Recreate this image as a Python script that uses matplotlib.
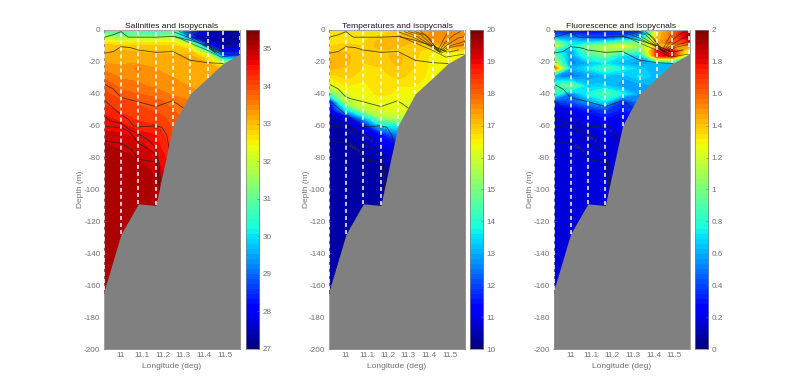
import numpy as np
import matplotlib
matplotlib.use("Agg")
import matplotlib.pyplot as plt

plt.rcParams['font.family'] = ['Liberation Sans', 'DejaVu Sans']
plt.rcParams['axes.unicode_minus'] = False

titles = ["Salinities and isopycnals", "Temperatures and isopycnals", "Fluorescence and isopycnals"]
station_lon = [10.92, 11.0, 11.083, 11.167, 11.25, 11.333, 11.417, 11.49, 11.572]
station_bottom = [163, 128, 109, 110, 60, 40, 30, 21, 15]
depth = [1, 3, 5, 8, 10, 13, 16, 21, 24, 29, 35, 40, 45, 50, 55, 60, 65, 70, 75, 80, 90, 100, 110, 165]

salinity = [
    [30.8, 30.8, 30.8, 30.6, 30.8, 28.8, 27.5, 27.4, 27.4],
    [31.2, 31.0, 31.0, 30.9, 31.2, 28.6, 27.3, 27.3, 27.3],
    [31.9, 31.8, 31.9, 31.9, 32.0, 28.5, 27.3, 27.3, 27.3],
    [32.7, 32.6, 32.6, 32.6, 32.6, 31.5, 27.8, 27.4, 27.4],
    [32.9, 32.9, 32.9, 32.9, 32.9, 32.4, 28.5, 27.5, 27.5],
    [33.0, 33.1, 33.0, 33.0, 33.0, 32.9, 30.5, 28.0, 28.0],
    [33.1, 33.2, 33.2, 33.1, 33.1, 33.1, 32.5, 28.5, 28.5],
    [33.3, 33.3, 33.3, 33.2, 33.2, 33.2, 33.1, 32.0, 31.0],
    [33.5, 33.4, 33.6, 33.3, 33.2, 33.2, 33.2, 33.0, 33.0],
    [33.7, 33.5, 33.5, 33.4, 33.3, 33.2, 33.2, 33.0, 33.0],
    [34.0, 33.7, 33.6, 33.5, 33.4, 33.3, 33.3, 33.0, 33.0],
    [34.1, 33.9, 33.8, 33.7, 33.5, 33.4, 33.3, 33.0, 33.0],
    [34.2, 34.1, 34.0, 33.9, 33.7, 33.6, 33.3, 33.0, 33.0],
    [34.4, 34.2, 34.1, 34.0, 33.8, 33.7, 33.3, 33.0, 33.0],
    [34.6, 34.4, 34.2, 34.2, 33.9, 33.7, 33.3, 33.0, 33.0],
    [34.7, 34.6, 34.4, 34.3, 34.0, 33.7, 33.3, 33.0, 33.0],
    [34.8, 34.8, 34.6, 34.5, 34.0, 33.7, 33.3, 33.0, 33.0],
    [35.0, 34.9, 34.8, 34.6, 34.1, 33.7, 33.3, 33.0, 33.0],
    [35.1, 35.0, 34.9, 34.7, 34.2, 33.7, 33.3, 33.0, 33.0],
    [35.1, 35.1, 35.0, 34.8, 34.3, 33.7, 33.3, 33.0, 33.0],
    [35.1, 35.1, 35.1, 35.0, 34.5, 33.7, 33.3, 33.0, 33.0],
    [35.1, 35.1, 35.1, 35.1, 34.7, 33.7, 33.3, 33.0, 33.0],
    [35.1, 35.1, 35.1, 35.1, 34.8, 33.7, 33.3, 33.0, 33.0],
    [35.1, 35.1, 35.1, 35.1, 34.8, 33.7, 33.3, 33.0, 33.0],
]
temperature = [
    [16.6, 16.6, 16.6, 16.7, 16.9, 17.1, 17.6, 17.6, 17.6],
    [16.6, 16.6, 16.6, 16.8, 17.0, 17.2, 17.6, 17.7, 17.7],
    [16.7, 16.7, 16.7, 17.0, 17.1, 17.2, 17.6, 17.7, 17.7],
    [16.7, 16.8, 16.8, 17.2, 17.2, 17.0, 17.4, 17.6, 17.6],
    [16.8, 16.9, 16.8, 17.2, 17.1, 16.9, 16.9, 17.3, 17.4],
    [17.0, 17.0, 16.8, 17.0, 17.0, 16.9, 16.6, 16.6, 16.8],
    [17.1, 17.1, 16.9, 17.0, 17.1, 16.9, 16.5, 16.4, 16.4],
    [17.1, 17.1, 16.8, 16.9, 17.1, 16.8, 16.5, 16.4, 16.4],
    [17.1, 17.0, 16.8, 16.8, 17.0, 16.8, 16.5, 16.4, 16.4],
    [16.7, 16.9, 16.7, 16.7, 16.9, 16.7, 16.5, 16.4, 16.4],
    [16.1, 16.6, 16.5, 16.8, 16.6, 16.6, 16.4, 16.4, 16.4],
    [14.5, 16.1, 16.4, 16.7, 16.5, 16.4, 16.4, 16.4, 16.4],
    [11.2, 15.6, 16.2, 16.4, 16.3, 16.2, 16.2, 16.2, 16.2],
    [10.8, 13.5, 15.6, 16.1, 16.2, 16.1, 16.1, 16.1, 16.1],
    [10.5, 10.8, 13.0, 15.4, 15.7, 15.7, 15.7, 15.7, 15.7],
    [10.4, 10.5, 11.0, 13.5, 13.7, 14.5, 14.5, 14.5, 14.5],
    [10.4, 10.4, 10.6, 11.5, 12.6, 13.0, 13.0, 13.0, 13.0],
    [10.3, 10.4, 10.5, 11.0, 11.6, 12.0, 12.0, 12.0, 12.0],
    [10.3, 10.3, 10.4, 10.7, 11.0, 11.5, 11.5, 11.5, 11.5],
    [10.3, 10.3, 10.3, 10.5, 10.8, 11.0, 11.0, 11.0, 11.0],
    [10.3, 10.3, 10.3, 10.3, 10.5, 10.5, 10.5, 10.5, 10.5],
    [10.3, 10.3, 10.3, 10.3, 10.3, 10.3, 10.3, 10.3, 10.3],
    [10.3, 10.3, 10.3, 10.3, 10.3, 10.3, 10.3, 10.3, 10.3],
    [10.3, 10.3, 10.3, 10.3, 10.3, 10.3, 10.3, 10.3, 10.3],
]
fluorescence = [
    [0.35, 0.30, 0.25, 0.30, 0.30, 0.35, 1.35, 1.60, 1.90],
    [0.40, 0.40, 0.35, 0.35, 0.35, 0.50, 1.40, 1.60, 1.95],
    [0.60, 0.55, 0.45, 0.40, 0.50, 0.60, 1.40, 1.60, 1.90],
    [1.10, 0.70, 0.70, 0.80, 0.95, 1.00, 1.45, 1.65, 1.70],
    [1.20, 0.70, 1.00, 1.10, 1.25, 1.05, 1.40, 1.40, 1.50],
    [0.80, 0.55, 0.95, 1.15, 1.00, 0.90, 1.75, 1.80, 1.20],
    [0.95, 0.55, 0.85, 0.95, 0.70, 0.65, 1.80, 1.85, 1.00],
    [1.20, 0.50, 0.60, 0.70, 0.60, 0.55, 0.60, 0.60, 0.60],
    [1.65, 0.60, 0.70, 0.90, 0.75, 0.65, 0.60, 0.60, 0.60],
    [0.55, 0.45, 0.55, 0.60, 0.60, 0.70, 0.60, 0.60, 0.60],
    [0.85, 1.00, 0.65, 0.65, 0.55, 0.55, 0.60, 0.60, 0.60],
    [0.85, 0.50, 0.75, 0.90, 0.75, 0.55, 0.60, 0.60, 0.60],
    [0.35, 0.40, 0.55, 0.70, 0.30, 0.50, 0.50, 0.50, 0.50],
    [0.18, 0.22, 0.30, 0.38, 0.30, 0.40, 0.40, 0.40, 0.40],
    [0.14, 0.18, 0.22, 0.28, 0.20, 0.30, 0.30, 0.30, 0.30],
    [0.14, 0.16, 0.18, 0.20, 0.20, 0.20, 0.20, 0.20, 0.20],
    [0.14, 0.14, 0.15, 0.18, 0.18, 0.18, 0.18, 0.18, 0.18],
    [0.14, 0.14, 0.14, 0.15, 0.15, 0.15, 0.15, 0.15, 0.15],
    [0.14, 0.14, 0.14, 0.15, 0.15, 0.15, 0.15, 0.15, 0.15],
    [0.14, 0.14, 0.14, 0.15, 0.15, 0.15, 0.15, 0.15, 0.15],
    [0.14, 0.14, 0.14, 0.15, 0.15, 0.15, 0.15, 0.15, 0.15],
    [0.14, 0.14, 0.14, 0.15, 0.15, 0.15, 0.15, 0.15, 0.15],
    [0.14, 0.14, 0.14, 0.15, 0.15, 0.15, 0.15, 0.15, 0.15],
    [0.14, 0.14, 0.14, 0.15, 0.15, 0.15, 0.15, 0.15, 0.15],
]
ranges = [(27, 35.5), (10, 20), (0, 2)]
bar_ticks = [list(range(27, 36)), list(range(10, 21)), [round(0.2 * i, 1) for i in range(11)]]

# isopycnals: longitude and depth in metres
iso_lon = [
    [10.92, 10.963, 11.0, 11.019, 11.035, 11.167, 11.25, 11.333, 11.418, 11.49, 11.54],
    [10.92, 10.963, 11.0, 11.043, 11.083, 11.167, 11.25, 11.333, 11.418, 11.49],
    [10.92, 10.963, 10.995, 11.019, 11.083, 11.167, 11.212, 11.244, 11.268, 11.3],
    [10.92, 10.963, 11.0, 11.035, 11.059, 11.083, 11.124, 11.167, 11.196, 11.22, 11.231],
    [10.92, 10.947, 11.0, 11.035, 11.083, 11.132, 11.167, 11.18, 11.191],
    [10.92, 11.0, 11.043, 11.083, 11.124, 11.167, 11.18, 11.188],
    [10.92, 11.0, 11.051, 11.083, 11.124, 11.167, 11.18, 11.191],
]
iso_depth = [
    [4.5, 3, 1, 3, 4.5, 4.5, 4, 6.5, 10, 14, 12.5],
    [14.5, 13.5, 10.5, 11, 12.5, 14, 13.5, 19, 20.5, 21],
    [34, 37, 41.5, 43, 45, 48, 46, 44.5, 46, 49],
    [44, 49, 53, 56, 60, 60.5, 60.5, 60, 61, 66, 74],
    [54, 57, 58.5, 62, 65, 69, 74, 82, 95],
    [60.5, 61, 64, 71, 74, 78, 90, 100],
    [69.5, 71, 75, 81, 82, 82.5, 95, 105],
]
# fan of isopycnals near the shelf front
fan_lon = [
    [11.25, 11.33, 11.417, 11.46, 11.50, 11.572],
    [11.28, 11.34, 11.40, 11.45, 11.50, 11.572],
    [11.30, 11.36, 11.41, 11.45, 11.49, 11.54, 11.572],
    [11.33, 11.38, 11.42, 11.45, 11.475, 11.52, 11.55],
    [11.36, 11.40, 11.44, 11.465, 11.49],
    [11.26, 11.33, 11.42, 11.48, 11.572],
]
fan_depth = [
    [1, 5, 11, 14.5, 11, 9],
    [1, 4, 9, 14, 10, 7],
    [1, 3, 9, 13.5, 9, 5, 4],
    [1, 3, 9, 13, 8, 3, 1],
    [1, 5, 13, 7, 1],
    [4, 8, 13, 17, 15],
]
label_lon = [11.17, 11.10, 11.04]
label_depth = [62, 68, 74]
label_text = ["1026.5", "1026.5", "1026.5"]

fig = plt.figure(figsize=(8, 3.92), dpi=100)
W, H = 800.0, 392.0
ax_px = [(104, 240), (329, 465), (553.5, 689.5)]
bar_px = [(245.7, 259), (470, 483.3), (694.5, 707.8)]
top, bottom = 30, 349
gray = "#707070"
x = np.array(station_lon)
y = np.array(depth, dtype=float)


def box(p):
    return [p[0] / W, 1 - bottom / H, (p[1] - p[0]) / W, (bottom - top) / H]


fields = [salinity, temperature, fluorescence]
for i in range(3):
    ax = fig.add_axes(box(ax_px[i]))
    lo, hi = ranges[i]
    levels = np.linspace(lo, hi, 36 if i == 0 else 45)
    cf = ax.contourf(x, -y, np.array(fields[i]), levels=levels, cmap="jet", extend="both", zorder=1)
    for lo_i, d_i in zip(iso_lon, iso_depth):
        ax.plot(lo_i, -np.array(d_i), color="#202020", lw=0.6, alpha=0.8, zorder=2)
    for lo_f, d_f in zip(fan_lon, fan_depth):
        ax.plot(lo_f, -np.array(d_f), color="#202020", lw=0.5, alpha=0.75, zorder=2)
    for lx, ld, lt in zip(label_lon, label_depth, label_text):
        ax.text(lx, -ld, lt, fontsize=3.2, color="#444444", rotation=-30,
                ha="center", va="center", zorder=2)
    ax.fill_between(x, -np.array(station_bottom, dtype=float), -200, color="#808080", lw=0, zorder=3)
    ax.vlines(x, -np.array(station_bottom, dtype=float), 0, colors="white", lw=1.1,
              linestyles=(0, (2.6, 2.0)), zorder=4)
    ax.set_xlim(10.918, 11.572)
    ax.set_ylim(-200, 0)
    ax.set_xticks([11, 11.1, 11.2, 11.3, 11.4, 11.5])
    ax.set_xticklabels(["11", "11.1", "11.2", "11.3", "11.4", "11.5"])
    ax.set_yticks(range(-200, 1, 20))
    ax.tick_params(direction="in", length=1.5, width=0.4, labelsize=5.9, colors=gray, pad=2.5)
    ax.set_xlabel("Longitude (deg)", fontsize=6, color=gray, labelpad=2.5)
    ax.set_ylabel("Depth (m)", fontsize=6, color=gray)
    ax.yaxis.set_label_coords(-19.5 / 136.0, 0.5)
    ax.set_title(titles[i], fontsize=6.1, color="#1a1a1a", pad=1.5)
    for s in ax.spines.values():
        s.set_color("#808080")
        s.set_linewidth(0.5)

    cax = fig.add_axes(box(bar_px[i]))
    g = np.linspace(lo, hi, 64)[:, None]
    cax.imshow(g, origin="lower", aspect="auto", cmap="jet", extent=[0, 1, lo, hi], vmin=lo, vmax=hi)
    cax.set_xticks([])
    cax.yaxis.tick_right()
    cax.set_yticks(bar_ticks[i])
    cax.set_yticklabels([f"{t:g}" for t in bar_ticks[i]])
    cax.tick_params(direction="in", length=1.5, width=0.4, labelsize=5.9, colors=gray, pad=2.5)
    for s in cax.spines.values():
        s.set_color("#808080")
        s.set_linewidth(0.5)

fig.savefig("out.png", dpi=100)
